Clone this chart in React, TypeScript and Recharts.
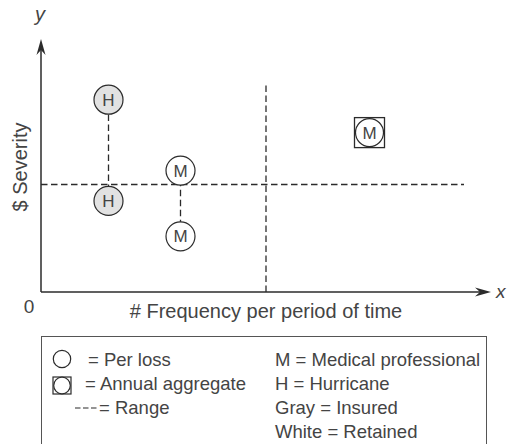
import { ScatterChart, Scatter, XAxis, YAxis, Customized } from 'recharts'

// loss points (x = frequency, y = severity), both on a 0–100 scale
const hurricanePerLoss = [
  { x: 15, y: 76, letter: 'H', insured: true },
  { x: 15, y: 36, letter: 'H', insured: true },
]
const medicalPerLoss = [
  { x: 31, y: 48, letter: 'M', insured: false },
  { x: 31, y: 22, letter: 'M', insured: false },
]
const medicalAnnual = [{ x: 73, y: 63, letter: 'M', insured: false }]

// ranges and thresholds (dashed)
const hurricaneRange = [{ x: 15, y: 36 }, { x: 15, y: 76 }]
const medicalRange = [{ x: 31, y: 22 }, { x: 31, y: 48 }]
const severityThreshold = [{ x: 0, y: 42.5 }, { x: 94, y: 42.5 }]
const frequencyThreshold = [{ x: 50, y: 0 }, { x: 50, y: 83 }]

// axes
const frequencyAxis = [{ x: 0, y: 0 }, { x: 98, y: 0 }]
const severityAxis = [{ x: 0, y: 0 }, { x: 0, y: 97 }]
const axisArrows = [
  { x: 100, y: 0, dir: 'right' },
  { x: 0, y: 100, dir: 'up' },
]

const legendLeft = ['= Per loss', '= Annual aggregate', '= Range']
const legendRight = ['M = Medical professional', 'H = Hurricane', 'Gray = Insured', 'White = Retained']

const FONT = '"Liberation Sans", Arial, Helvetica, sans-serif'
const INK = '#2b2b2b'
const TEXT = '#444'
const GRAY = '#e2e2e2'
const DASH = '6.5 3.5'

const noShape = () => <g />

function LetterCircle(props: any) {
  const { cx, cy, payload } = props
  return (
    <g>
      <circle cx={cx} cy={cy} r={14.5} fill={payload.insured ? GRAY : '#fff'} stroke={INK} strokeWidth={1.2} />
      <text x={cx} y={cy} dy={6} textAnchor="middle" fontFamily={FONT} fontSize={17} fill={TEXT}>
        {payload.letter}
      </text>
    </g>
  )
}

function AggregateBox(props: any) {
  const { cx, cy, payload } = props
  return (
    <g>
      <rect x={cx - 15} y={cy - 15} width={30} height={30} fill="#fff" stroke={INK} strokeWidth={1.3} />
      <circle cx={cx} cy={cy} r={14} fill={payload.insured ? GRAY : '#fff'} stroke={INK} strokeWidth={1.2} />
      <text x={cx} y={cy} dy={6} textAnchor="middle" fontFamily={FONT} fontSize={17} fill={TEXT}>
        {payload.letter}
      </text>
    </g>
  )
}

function Arrow(props: any) {
  const { cx, cy, payload } = props
  const d = 'M 0 0 L -16 -4.5 L -11 0 L -16 4.5 Z'
  const rot = payload.dir === 'up' ? -90 : 0
  return <path d={d} transform={`translate(${cx},${cy}) rotate(${rot})`} fill={INK} />
}

function AxisTexts() {
  return (
    <g fontFamily={FONT} fill={TEXT}>
      <text x={40} y={21} textAnchor="middle" fontSize={20} fontStyle="italic">y</text>
      <text x={496} y={298} fontSize={19} fontStyle="italic">x</text>
      <text x={29} y={313} textAnchor="middle" fontSize={19}>0</text>
      <text x={266} y={318} textAnchor="middle" fontSize={20}>
        # Frequency per period of time
      </text>
      <text x={27} y={167} textAnchor="middle" fontSize={20} transform="rotate(-90 27 167)">
        $ Severity
      </text>
    </g>
  )
}

function LegendBox() {
  const rowH = 24
  return (
    <div
      style={{
        position: 'absolute',
        left: 41,
        top: 336,
        width: 446,
        height: 108,
        borderTop: '1px solid #555',
        borderLeft: '1px solid #555',
        borderRight: '1px solid #555',
        boxSizing: 'border-box',
        fontFamily: FONT,
        fontSize: 18.5,
        color: TEXT,
      }}
    >
      <svg width={446} height={108} style={{ position: 'absolute', left: -1, top: -1 }}>
        <circle cx={21} cy={23} r={8.7} fill="#fff" stroke={INK} strokeWidth={1.2} />
        <rect x={12} y={41} width={18} height={17} fill="#fff" stroke={INK} strokeWidth={1.2} />
        <circle cx={21} cy={49.5} r={8.3} fill="#fff" stroke={INK} strokeWidth={1.2} />
        <line x1={34} y1={72} x2={55.5} y2={72} stroke={INK} strokeWidth={1.2} strokeDasharray="5.5 2.5" />
      </svg>
      {legendLeft.map((t, i) => (
        <div
          key={t}
          style={{
            position: 'absolute',
            left: i === 2 ? 57 : i === 1 ? 43 : 46,
            top: 11 + i * rowH,
            lineHeight: `${rowH}px`,
            whiteSpace: 'nowrap',
          }}
        >
          {t}
        </div>
      ))}
      {legendRight.map((t, i) => (
        <div
          key={t}
          style={{
            position: 'absolute',
            left: 233,
            top: 11 + i * rowH,
            lineHeight: `${rowH}px`,
            whiteSpace: 'nowrap',
          }}
        >
          {t}
        </div>
      ))}
    </div>
  )
}

export default function App() {
  const dashed = { stroke: INK, strokeWidth: 1.3, strokeDasharray: DASH }
  const solid = { stroke: INK, strokeWidth: 1.5 }
  return (
    <div style={{ position: 'absolute', left: 0, top: 0, width: 508, height: 444, background: '#fff' }}>
      <ScatterChart width={508} height={444} margin={{ top: 39, right: 17, left: 41, bottom: 152 }}>
        <XAxis type="number" dataKey="x" domain={[0, 100]} hide />
        <YAxis type="number" dataKey="y" domain={[0, 100]} hide />
        <Scatter data={severityThreshold} line={dashed} lineType="joint" shape={noShape} isAnimationActive={false} />
        <Scatter data={frequencyThreshold} line={dashed} lineType="joint" shape={noShape} isAnimationActive={false} />
        <Scatter data={hurricaneRange} line={dashed} lineType="joint" shape={noShape} isAnimationActive={false} />
        <Scatter data={medicalRange} line={dashed} lineType="joint" shape={noShape} isAnimationActive={false} />
        <Scatter data={frequencyAxis} line={solid} lineType="joint" shape={noShape} isAnimationActive={false} />
        <Scatter data={severityAxis} line={solid} lineType="joint" shape={noShape} isAnimationActive={false} />
        <Scatter data={hurricanePerLoss} shape={LetterCircle} isAnimationActive={false} />
        <Scatter data={medicalPerLoss} shape={LetterCircle} isAnimationActive={false} />
        <Scatter data={medicalAnnual} shape={AggregateBox} isAnimationActive={false} />
        <Scatter data={axisArrows} shape={Arrow} isAnimationActive={false} />
        <Customized component={AxisTexts} />
      </ScatterChart>
      <LegendBox />
    </div>
  )
}
